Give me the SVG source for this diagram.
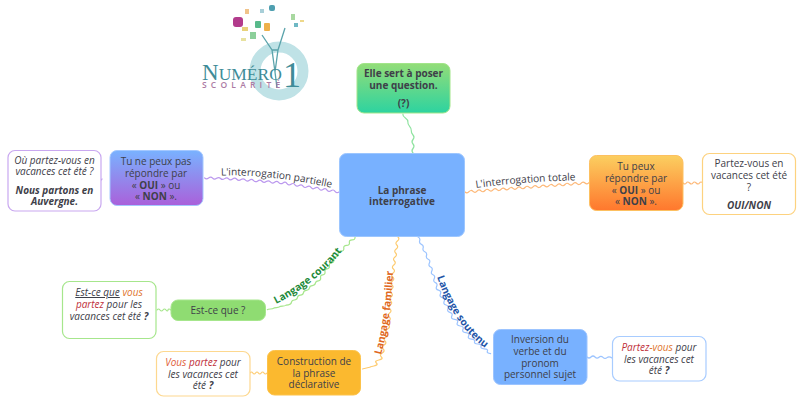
<svg xmlns="http://www.w3.org/2000/svg" width="812" height="420" viewBox="0 0 812 420">
<style>
text{font-family:"Open Sans","Liberation Sans",sans-serif;font-size:10px;fill:#3e4049;text-anchor:middle}
.b{font-weight:700}.i{font-style:italic}
.w{fill:none;stroke-width:1.200;stroke-linecap:round}
.leaf{fill:#fff;stroke-width:1.200}
.el{text-anchor:start;font-size:10.200px}
.or{fill:#e0752e}.re{fill:#c0303a}
</style>
<defs>
<linearGradient id="gG" x1="0" y1="0" x2="0" y2="1"><stop offset="0" stop-color="#93dd78"/><stop offset="1" stop-color="#2dd3a0"/></linearGradient>
<linearGradient id="gP" x1="0" y1="0" x2="0" y2="1"><stop offset="0" stop-color="#79b2ff"/><stop offset="1" stop-color="#aa60da"/></linearGradient>
<linearGradient id="gO" x1="0" y1="0" x2="0" y2="1"><stop offset="0" stop-color="#fbcf60"/><stop offset="1" stop-color="#ff772d"/></linearGradient>
<path id="pL" d="M221 175.500Q275 174 345 191"/>
<path id="pR" d="M476 188Q525 181 590 180"/>
<path id="pG" d="M276 304Q316 284 342 251L353 237"/>
<path id="pO" d="M381 355Q391 320 393 271L394 255"/>
<path id="pB" d="M437 277Q455 328 488 350L500 358"/>
</defs>
<g id="logo">
<circle cx="279" cy="71" r="24" fill="none" stroke="#bfe2e6" stroke-width="11"/>
<path d="M262 35L272 50L275 72M285 28L278 50L275 72L277 88M272 50H278" fill="none" stroke="#5aa3ab" stroke-width="1.300"/>
<rect x="233" y="17" width="10" height="10" rx="3" fill="#b23b8c"/>
<rect x="245" y="9" width="4" height="5" fill="#f0c38a"/>
<rect x="255" y="21" width="6" height="7" rx="1" fill="#58b98a"/>
<rect x="264" y="23" width="6" height="8" rx="1" fill="#eeb04a"/>
<rect x="269" y="5" width="6" height="6" rx="2" fill="#4f9fb0"/>
<rect x="250" y="32" width="6" height="7" fill="#8ccf9a"/>
<rect x="242" y="27" width="6" height="4" fill="#e8d27a"/>
<rect x="291" y="14" width="4" height="6" fill="#a8d8a0"/>
<rect x="294" y="23" width="4" height="4" fill="#6fb8c4"/>
<rect x="300" y="20" width="4" height="2" fill="#eed88a"/>
<rect x="260" y="9" width="4" height="4" fill="#a8cfd8"/>
<rect x="241" y="38" width="5" height="3" fill="#e8e2a0"/>
<text x="202" y="80" style="text-anchor:start;font-family:'Liberation Serif',serif;font-size:23px;fill:#3f8c98">N<tspan style="font-size:17.500px">UMÉRO</tspan></text>
<text x="292" y="87" style="font-family:'Liberation Serif',serif;font-size:36px;fill:#3f8c98">1</text>
<text x="202" y="88" style="text-anchor:start;font-size:8.500px;font-weight:600;letter-spacing:4.200px;fill:#ac7aa3">SCOLARITÉ</text>
</g>
<g id="connectors">
<path class="w" stroke="#8fe3a0" d="M413 153q-2 -2.200 0 -4.500t0 -4.500 0 -4.500 0 -4.500 -1.700 -4.300 -1.700 -4.300 -1.700 -4.300 -2.500 -4 -2.500 -4"/>
<path class="w" stroke="#bb98ee" d="M339 192q-2.300 1.700 -4 -.65t-4 -.65 -4 -.65 -4 -.65 -4 -.65 -4 -.65 -4 -.65 -4 -.65 -4 -.65 -4 -.65 -4 -.65 -4 -.65 -4 -.65 -4 -.65 -4.200 -.33 -4.200 -.33 -4.200 -.33 -4.200 -.33 -4.200 -.33 -4.200 -.33 -4.200 -.33 -4.200 -.33 -4.200 -.33 -4.200 -.33 -4.200 -.33 -4.200 -.33 -4 -.15 -4 -.15 -4 -.15 -4 -.15 -4 -.15 -4 -.15 -4 -.15"/>
<path class="w" stroke="#bb98ee" d="M102 179q-1 2 -2 .3t-2 -.3 -2 -.3 -2 -.3"/>
<path class="w" stroke="#fdb878" d="M465 192q2 2 4 -.3t4 -.3 4 -.3 4 -.3 4 -.3 4 -.3 4 -.3 4 -.3 4 -.3 4 -.3 4 -.3 4 -.3 4 -.3 4 -.3 4 -.3 4 -.3 4 -.3 4 -.3 4 -.3 4 -.3 4 -.3 4 -.3 4 -.3 4 -.3 4 -.3 4 -.3 4 -.3 4 -.3 4 -.3 4 -.3 4 -.3"/>
<path class="w" stroke="#fdb878" d="M683 183q2 2 3.300 0t3.300 0 3.300 0 3.300 0 3.300 0 3.500 0"/>
<path class="w" stroke="#a6e68c" d="M355 237q.4 2.800 -2.800 2.800t-2.800 2.800 -2.800 2.800 -2.800 2.800 -2.800 2.800 -2.800 2.800 -2.200 3 -2.200 3 -2.200 3 -2.200 3 -2.200 3 -2.200 3 -2.200 3 -2.200 3 -2.200 3 -3 2.400 -3 2.400 -3 2.400 -3 2.400 -3 2.400 -3 2.400 -3 2.400 -3 2.400 -3 2.400 -3 2.400 -3 .7 -3 .7 -3 .7 -3 .7 -3 .7 -3 .7 -3 .7"/>
<path class="w" stroke="#a6e68c" d="M157 310q1.500 -2 3 0t3 0 3 0 2 0 3 0"/>
<path class="w" stroke="#fdcb70" d="M398 237q2 2 -.6 4t-.6 4 -.6 4 -.6 4 -.6 4 -.6 4 -.6 4 -.35 4 -.35 4 -.35 4 -.35 4 -.35 4 -.35 4 -.35 4 -.35 4 -.35 4 -.35 4 -.35 4 -.35 4 -.35 4 -.35 4 -.35 4 -.9 4 -.9 4 -.9 4 -.9 4 -.9 4 -.9 4 -.9 4 -.9 4 -2.500 3 -2.500 3 -2.500 3 -3.700 1 -3.700 1 -3.700 1"/>
<path class="w" stroke="#fdcb70" d="M250 373q1.400 -2 2.800 0t2.800 0 2.800 0 2.800 0 2.800 0 3 0"/>
<path class="w" stroke="#9cc4ff" d="M418 237q2.500 1 1.700 3.700t1.700 3.700 1.700 3.700 1.700 3.700 1.700 3.700 1.700 3.700 1.200 3.900 1.200 3.900 1.200 3.900 1.200 3.900 1.200 3.900 1.200 3.900 1.200 3.900 1.900 3.700 1.900 3.700 1.900 3.700 1.900 3.700 1.900 3.700 1.900 3.700 1.900 3.700 1.900 3.700 2.800 3.300 2.800 3.300 2.800 3.300 2.800 3.300 2.800 3.300 2.800 3.300 2.800 3.300 3.200 2.400 3.200 2.400 3.200 2.400 3.200 2.400 3.200 2.400 3.200 2.400"/>
<path class="w" stroke="#9cc4ff" d="M587 357q2 2 4 0t4 0 4 .2 4 .2 4 .2 5 .4"/>
</g>
<g id="edge-labels">
<text class="el"><textPath href="#pL">L'interrogation partielle</textPath></text>
<text class="el"><textPath href="#pR">L'interrogation totale</textPath></text>
<text class="el b" style="fill:#1d8a3a"><textPath href="#pG">Langage courant</textPath></text>
<text class="el b" style="fill:#e0681f"><textPath href="#pO">Langage familier</textPath></text>
<text class="el b" style="fill:#2355a8"><textPath href="#pB">Langage soutenu</textPath></text>
</g>
<g id="center">
<rect x="339.500" y="153.500" width="125" height="83" rx="7" fill="#78b1ff" stroke="#9cc6ff"/>
<text class="b" x="402" y="194">La phrase</text><text class="b" x="402" y="205">interrogative</text>
</g>
<g id="top-node">
<rect x="357" y="63.500" width="93" height="49.500" rx="7" fill="url(#gG)" stroke="#a2e58a"/>
<text class="b" x="403.500" y="77">Elle sert à poser</text><text class="b" x="403.500" y="89">une question.</text><text class="b" x="403.500" y="107">(?)</text>
</g>
<g id="partielle">
<rect x="110" y="150.500" width="93" height="55" rx="7" fill="url(#gP)" stroke="#a4c8ff"/>
<text x="156" y="165">Tu ne peux pas</text><text x="156" y="176.500">répondre par</text>
<text x="156" y="188.500">« <tspan class="b">OUI</tspan> » ou</text><text x="156" y="200">« <tspan class="b">NON</tspan> ».</text>
</g>
<g id="partielle-ex">
<rect class="leaf" x="8" y="150.500" width="93" height="60.500" rx="7" stroke="#c9a8f0"/>
<text class="i" x="54.500" y="163.500">Où partez-vous en</text><text class="i" x="54.500" y="175">vacances cet été ?</text>
<text class="i b" x="54.500" y="193.500">Nous partons en</text><text class="i b" x="54.500" y="205">Auvergne.</text>
</g>
<g id="totale">
<rect x="589.500" y="155.500" width="93.500" height="55" rx="7" fill="url(#gO)" stroke="#fdc060"/>
<text x="636" y="170">Tu peux</text><text x="636" y="181.500">répondre par</text>
<text x="636" y="193.500">« <tspan class="b">OUI</tspan> » ou</text><text x="636" y="205">« <tspan class="b">NON</tspan> ».</text>
</g>
<g id="totale-ex">
<rect class="leaf" x="702.500" y="153.500" width="93" height="61" rx="7" stroke="#fdd27f"/>
<text x="749" y="167">Partez-vous en</text><text x="749" y="179">vacances cet été</text><text x="749" y="191">?</text>
<text class="i b" x="749" y="209">OUI/NON</text>
</g>
<g id="courant">
<rect x="171" y="300" width="94.500" height="20.500" rx="7" fill="#8fdc72" stroke="#a6e68c"/>
<text x="218" y="314">Est-ce que ?</text>
</g>
<g id="courant-ex">
<rect class="leaf" x="62.500" y="281.500" width="93.500" height="57" rx="7" stroke="#a6e68c"/>
<text class="i" x="109" y="296"><tspan text-decoration="underline">Est-ce que</tspan> <tspan class="or">vous</tspan></text>
<text class="i" x="109" y="308"><tspan class="re">partez</tspan> pour les</text>
<text class="i" x="109" y="319.500">vacances cet été <tspan class="b">?</tspan></text>
</g>
<g id="familier">
<rect x="267.500" y="350.500" width="93" height="44.500" rx="7" fill="#fbb92f" stroke="#fcc24a"/>
<text x="314" y="365">Construction de</text><text x="314" y="376.500">la phrase</text><text x="314" y="388">déclarative</text>
</g>
<g id="familier-ex">
<rect class="leaf" x="156.500" y="351.500" width="93.500" height="44.500" rx="7" stroke="#fdd88f"/>
<text class="i" x="203" y="366"><tspan style="fill:#e0603a">Vous</tspan> <tspan class="re">partez</tspan> pour</text>
<text class="i" x="203" y="377.500">les vacances cet</text>
<text class="i" x="203" y="389">été <tspan class="b">?</tspan></text>
</g>
<g id="soutenu">
<rect x="493.500" y="329.500" width="93.500" height="55" rx="7" fill="#78b1ff" stroke="#9cc4ff"/>
<text x="540" y="343">Inversion du</text><text x="540" y="355">verbe et du</text><text x="540" y="367">pronom</text><text x="540" y="378">personnel sujet</text>
</g>
<g id="soutenu-ex">
<rect class="leaf" x="612.500" y="336.500" width="93.500" height="44.500" rx="7" stroke="#a8ccff"/>
<text class="i" x="659" y="351"><tspan class="re">Partez</tspan><tspan class="or">-vous</tspan> pour</text>
<text class="i" x="659" y="362.500">les vacances cet</text>
<text class="i" x="659" y="374">été <tspan class="b">?</tspan></text>
</g>
</svg>
